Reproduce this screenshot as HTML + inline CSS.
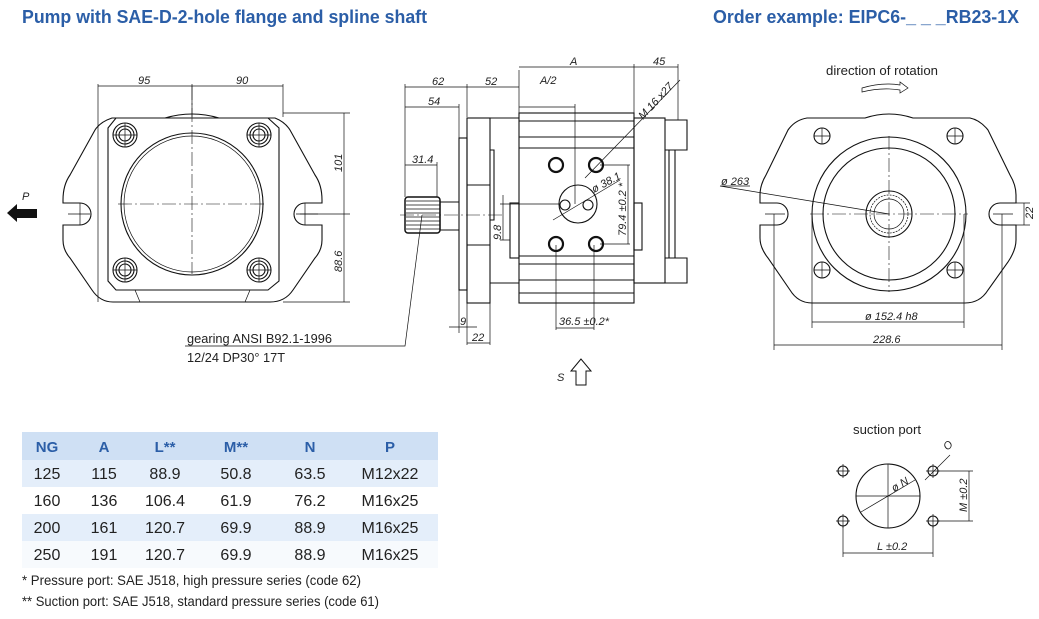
<!DOCTYPE html>
<html><head><meta charset="utf-8"><style>
html,body{margin:0;padding:0;background:#fff;width:1039px;height:619px;overflow:hidden}
svg{display:block}
text{font-family:"Liberation Sans Narrow","Liberation Sans",sans-serif}
.d{font-family:"Liberation Sans",sans-serif;font-style:italic;font-size:11px;fill:#222}
.l{stroke:#111;fill:none;stroke-width:1.1}
.b{stroke:#111;fill:none;stroke-width:2.2}
.t{stroke:#111;fill:none;stroke-width:0.7}
.c{stroke:#111;fill:none;stroke-width:0.6;stroke-dasharray:14 3 2 3}
</style></head><body>
<svg width="1039" height="619" viewBox="0 0 1039 619" xmlns="http://www.w3.org/2000/svg">
<text x="22" y="23" font-size="18" font-weight="bold" fill="#2b5ea7" textLength="405" lengthAdjust="spacingAndGlyphs">Pump with SAE-D-2-hole flange and spline shaft</text>
<text x="713" y="23" font-size="18" font-weight="bold" fill="#2b5ea7" textLength="306" lengthAdjust="spacingAndGlyphs">Order example:  EIPC6-_ _ _RB23-1X</text>

<g>
<line class="t" x1="98" y1="86" x2="283" y2="86"/>
<line class="t" x1="98" y1="84" x2="98" y2="302"/>
<line class="t" x1="283" y1="84" x2="283" y2="117"/>
<line class="t" x1="192" y1="84" x2="192" y2="117"/>
<text class="d" x="138" y="84">95</text>
<text class="d" x="236" y="84">90</text>
<path class="l" d="M112 118 L165 118 Q192 110 219 118 L275 118 Q285 122 290 130 L315 175 Q322 185 322 200 L322 203 L305 203 A11 11 0 0 0 305 225 L322 225 L322 240 Q322 250 315 258 L293 290 Q285 302 270 302 L113 302 Q100 302 92 290 L70 258 Q63 250 63 240 L63 225 L80 225 A11 11 0 0 0 80 203 L63 203 L63 200 Q63 185 70 175 L95 130 Q100 122 112 118 Z"/>
<path class="l" d="M116 118 L268 118 L279 128 L279 281 L268 290 L116 290 L108 281 L108 128 Z"/>
<path class="t" d="M135 290 L140 302 M250 290 L245 302"/>
<circle class="l" cx="192" cy="204" r="71"/>
<circle class="t" cx="192" cy="204" r="68"/>
<line class="c" x1="118" y1="204" x2="266" y2="204"/>
<line class="c" x1="192" y1="86" x2="192" y2="274"/>
<g class="l">
<circle cx="125" cy="135" r="12"/><circle cx="125" cy="135" r="9"/><circle cx="125" cy="135" r="6"/>
<circle cx="259" cy="135" r="12"/><circle cx="259" cy="135" r="9"/><circle cx="259" cy="135" r="6"/>
<circle cx="125" cy="270" r="12"/><circle cx="125" cy="270" r="9"/><circle cx="125" cy="270" r="6"/>
<circle cx="259" cy="270" r="12"/><circle cx="259" cy="270" r="9"/><circle cx="259" cy="270" r="6"/>
</g>
<path class="t" d="M113 135h24M125 123v24M247 135h24M259 123v24M113 270h24M125 258v24M247 270h24M259 258v24M68 214h22M80 203v22M296 214h22M305 203v22"/>
<line class="t" x1="283" y1="113" x2="350" y2="113"/>
<line class="t" x1="283" y1="302" x2="350" y2="302"/>
<line class="t" x1="300" y1="214" x2="350" y2="214"/>
<line class="t" x1="344" y1="113" x2="344" y2="302"/>
<text class="d" transform="translate(342,172) rotate(-90)">101</text>
<text class="d" transform="translate(342,272) rotate(-90)">88.6</text>
<path d="M7 213 L17 204 L17 209 L37 209 L37 218 L17 218 L17 222 Z" fill="#111"/>
<text class="d" x="22" y="200" font-size="14">P</text>
</g>

<g>
<path class="t" d="M405 87 L519 87 M405 84 L405 197 M467 84 L467 117 M519 70 L519 113 M575 104 L575 204 M519 107 L575 107 M519 67 L678 67 M634 64 L634 113 M678 64 L678 120 M405 107 L459 107 M459 104 L459 139 M405 165 L437 165 M437 162 L437 197"/>
<text class="d" x="432" y="85">62</text><text class="d" x="485" y="85">52</text>
<text class="d" x="540" y="84">A/2</text><text class="d" x="570" y="65">A</text><text class="d" x="653" y="65">45</text>
<text class="d" x="428" y="105">54</text><text class="d" x="412" y="163">31.4</text>
<rect x="405" y="197" width="35" height="36" rx="3" fill="#fff" stroke="#111" stroke-width="1.5"/>
<path class="t" d="M406 201h34M406 205h34M406 209h34M406 213h34M406 217h34M406 221h34M406 225h34M406 229h34"/>
<path class="l" d="M440 202 L459 202 M440 230 L459 230 M440 202 L440 230"/>
<line class="c" x1="400" y1="215" x2="505" y2="215"/>
<rect class="l" x="459" y="138" width="8" height="152"/>
<rect class="l" x="467" y="118" width="23" height="185"/>
<path class="l" d="M467 185 L490 185 M467 245 L490 245 M490 150 L494 150 L494 220 L490 220"/>
<path class="l" d="M490 118 L519 118 M490 283 L519 283"/>
<rect class="l" x="519" y="113" width="115" height="190"/>
<path class="l" d="M519 121h115M519 137h115M519 148h115M519 256h115M519 264h115M519 280h115M519 293h115"/>
<rect class="l" x="510" y="203" width="9" height="55"/>
<rect class="l" x="634" y="203" width="8" height="47"/>
<rect class="l" x="634" y="118" width="31" height="165"/>
<path class="l" d="M665 120 L687 120 L687 150 L665 150 M665 258 L687 258 L687 283 L665 283 M669 150 L669 258 M675 150 L675 258"/>
<circle class="l" cx="578" cy="204" r="19"/>
<circle class="l" cx="565" cy="205" r="5"/><circle class="l" cx="588" cy="205" r="5"/>
<g class="b">
<circle cx="556" cy="165" r="7"/><circle cx="596" cy="165" r="7"/>
<circle cx="556" cy="244" r="7"/><circle cx="596" cy="244" r="7"/>
</g>
<path class="t" d="M500 204 L560 204 M556 245 L556 330 M594 245 L594 330 M556 328 L594 328 M600 165 L630 165 M600 244 L630 244 M628 165 L628 244 M585 178 L680 80 M553 220 L620 180"/>
<text class="d" transform="translate(643,120) rotate(-47)">M 16 x27</text>
<text class="d" transform="translate(594,193) rotate(-28)">ø 38.1</text>
<text class="d" transform="translate(626,236) rotate(-90)">79.4 ±0.2 *</text>
<text class="d" x="559" y="325">36.5 ±0.2*</text>
<path class="t" d="M503 195 L503 240 M500 240 L510 240"/>
<text class="d" transform="translate(501,240) rotate(-90)">9.8</text>
<path class="t" d="M459 290 L459 333 M467 303 L467 345 M490 303 L490 345 M449 327 L477 327 M467 343 L490 343"/>
<text class="d" x="460" y="325">9</text><text class="d" x="472" y="341">22</text>
<path class="t" d="M422 215 L405 346 L185 346"/>
<text x="187" y="343" font-size="13" fill="#222" textLength="145" lengthAdjust="spacingAndGlyphs">gearing ANSI B92.1-1996</text>
<text x="187" y="362" font-size="13" fill="#222" textLength="98" lengthAdjust="spacingAndGlyphs">12/24 DP30° 17T</text>
<path d="M581 359 L571 371 L576 371 L576 385 L586 385 L586 371 L591 371 Z" fill="#fff" stroke="#111" stroke-width="1"/>
<text class="d" x="557" y="381" font-size="15">S</text>
</g>

<g>
<text x="882" y="75" font-size="13" fill="#222" text-anchor="middle" textLength="112" lengthAdjust="spacingAndGlyphs">direction of rotation</text>
<path class="t" d="M862 88 Q882 82 900 85 L900 82 L908 88 L900 93 L900 90 Q882 87 862 92 Z"/>
<path class="l" d="M807 118 L865 118 Q889 110 913 118 L970 118 Q980 120 988 130 L1010 175 Q1016 185 1016 195 L1016 203 L1000 203 A11 11 0 0 0 1000 225 L1016 225 L1016 240 Q1016 250 1008 262 L988 290 Q980 303 965 303 L812 303 Q798 303 790 290 L768 258 Q760 248 760 238 L760 225 L777 225 A11 11 0 0 0 777 203 L760 203 L760 195 Q760 185 766 175 L788 130 Q795 120 807 118 Z"/>
<circle class="l" cx="889" cy="214" r="77" stroke-width="1.4"/>
<circle class="l" cx="889" cy="214" r="66"/>
<circle class="l" cx="889" cy="214" r="23"/>
<circle class="t" cx="889" cy="214" r="19" stroke-width="2" stroke-dasharray="2 1"/>
<circle class="t" cx="889" cy="214" r="15"/>
<line class="c" x1="810" y1="214" x2="968" y2="214"/>
<line class="c" x1="889" y1="136" x2="889" y2="292"/>
<g class="l"><circle cx="822" cy="136" r="8"/><circle cx="955" cy="136" r="8"/><circle cx="822" cy="270" r="8"/><circle cx="955" cy="270" r="8"/></g>
<path class="t" d="M814 136h16M822 128v16M947 136h16M955 128v16M814 270h16M822 262v16M947 270h16M955 262v16M765 214h20M993 214h20"/>
<path class="t" d="M720 186 L889 214 M720 186 L750 186"/>
<text class="d" x="721" y="185">ø 263</text>
<path class="t" d="M812 214 L812 328 M964 214 L964 328 M812 322 L964 322 M774 214 L774 350 M1002 214 L1002 350 M774 345 L1002 345 M1003 203 L1030 203 M1003 225 L1030 225 M1024 203 L1024 225"/>
<text class="d" x="865" y="320">ø 152.4 h8</text>
<text class="d" x="873" y="343">228.6</text>
<text class="d" transform="translate(1033,219) rotate(-90)">22</text>
</g>

<g>
<text x="887" y="434" font-size="13" fill="#222" text-anchor="middle" textLength="68" lengthAdjust="spacingAndGlyphs">suction port</text>
<circle class="l" cx="888" cy="496" r="32"/>
<path class="t" d="M856 496h64M888 464v64M861 512 L915 480"/>
<text class="d" transform="translate(894,492) rotate(-30)">ø N</text>
<g class="l"><circle cx="843" cy="471" r="5"/><circle cx="933" cy="471" r="5"/><circle cx="843" cy="521" r="5"/><circle cx="933" cy="521" r="5"/></g>
<path class="t" d="M836 471h14M843 464v14M926 471h14M933 464v14M836 521h14M843 514v14M926 521h14M933 514v14M925 480 L950 455"/>
<text class="d" transform="translate(948,451) rotate(-50)">O</text>
<path class="t" d="M938 471 L973 471 M938 521 L973 521 M969 471 L969 521 M843 526 L843 557 M933 526 L933 557 M843 553 L933 553"/>
<text class="d" transform="translate(967,512) rotate(-90)">M ±0.2</text>
<text class="d" x="877" y="550">L ±0.2</text>
</g>

<rect x="22" y="432" width="416" height="28" fill="#cfe0f4"/>
<rect x="22" y="460" width="416" height="27" fill="#e4eefa"/>
<rect x="22" y="487" width="416" height="27" fill="#ffffff"/>
<rect x="22" y="514" width="416" height="27" fill="#e4eefa"/>
<rect x="22" y="541" width="416" height="27" fill="#f7fafd"/>
<g font-size="15" font-weight="bold" fill="#2b5ea7" text-anchor="middle">
<text x="47" y="452">NG</text><text x="104" y="452">A</text><text x="165" y="452">L**</text><text x="236" y="452">M**</text><text x="310" y="452">N</text><text x="390" y="452">P</text>
</g>
<g font-size="16" fill="#222" text-anchor="middle">
<text x="47" y="479">125</text><text x="104" y="479">115</text><text x="165" y="479">88.9</text><text x="236" y="479">50.8</text><text x="310" y="479">63.5</text><text x="390" y="479">M12x22</text>
<text x="47" y="506">160</text><text x="104" y="506">136</text><text x="165" y="506">106.4</text><text x="236" y="506">61.9</text><text x="310" y="506">76.2</text><text x="390" y="506">M16x25</text>
<text x="47" y="533">200</text><text x="104" y="533">161</text><text x="165" y="533">120.7</text><text x="236" y="533">69.9</text><text x="310" y="533">88.9</text><text x="390" y="533">M16x25</text>
<text x="47" y="560">250</text><text x="104" y="560">191</text><text x="165" y="560">120.7</text><text x="236" y="560">69.9</text><text x="310" y="560">88.9</text><text x="390" y="560">M16x25</text>
</g>
<text x="22" y="585" font-size="14" fill="#222" textLength="339" lengthAdjust="spacingAndGlyphs">*  Pressure port: SAE J518, high pressure series (code 62)</text>
<text x="22" y="606" font-size="14" fill="#222" textLength="357" lengthAdjust="spacingAndGlyphs">** Suction port: SAE J518, standard pressure series (code 61)</text>
</svg>
</body></html>
